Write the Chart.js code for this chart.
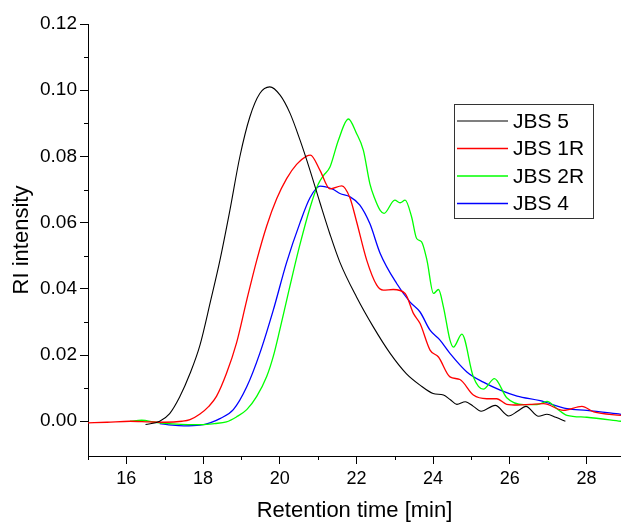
<!DOCTYPE html>
<html>
<head>
<meta charset="utf-8">
<script src="https://cdn.jsdelivr.net/npm/chart.js@4"></script>
<style>
  html, body { margin: 0; padding: 0; background: #fff; }
  #wrap { width: 621px; height: 525px; position: relative; }
</style>
</head>
<body>
<div id="wrap"><canvas id="gpcChart"></canvas></div>
<script>
// retention time [min] / RI intensity
const jbs5Time = [16.5, 16.87, 17.13, 17.39, 17.66, 17.92, 18.2, 18.44, 18.7, 18.96, 19.22, 19.48, 19.74, 20.01, 20.27, 20.53, 20.79, 21.05, 21.31, 21.57, 22.0, 22.44, 22.88, 23.3, 23.66, 24.0, 24.27, 24.45, 24.62, 24.84, 25.05, 25.25, 25.62, 25.97, 26.2, 26.42, 26.75, 26.97, 27.2, 27.45];
const jbs5Value = [-0.001, 0, 0.0023, 0.0073, 0.0144, 0.023, 0.0365, 0.0486, 0.0637, 0.0799, 0.0919, 0.099, 0.101, 0.0985, 0.093, 0.0849, 0.0758, 0.066, 0.0565, 0.048, 0.0376, 0.0285, 0.0205, 0.0144, 0.0109, 0.0084, 0.0079, 0.0065, 0.0051, 0.0059, 0.0045, 0.003, 0.0048, 0.0016, 0.003, 0.0045, 0.0015, 0.0021, 0.0012, 0];

const jbs1rTime = [15, 15.5, 16.1, 16.6, 17.0, 17.45, 17.66, 17.92, 18.15, 18.35, 18.61, 18.87, 19.14, 19.4, 19.66, 19.92, 20.18, 20.44, 20.7, 20.8, 21.05, 21.31, 21.62, 21.83, 22.0, 22.27, 22.53, 22.7, 22.96, 23.27, 23.49, 23.66, 23.92, 24.14, 24.44, 24.7, 25.05, 25.4, 25.66, 25.92, 26.2, 26.53, 26.88, 27.4, 27.88, 28.19, 28.9];
const jbs1rValue = [-0.0005, -0.0003, 0, -0.0002, -0.0003, 0, 0.0005, 0.0022, 0.0045, 0.0075, 0.0144, 0.0235, 0.0366, 0.0486, 0.059, 0.0672, 0.0733, 0.0776, 0.0801, 0.0804, 0.0758, 0.0702, 0.0711, 0.0675, 0.0605, 0.0486, 0.0411, 0.0396, 0.0398, 0.0386, 0.0325, 0.0295, 0.0215, 0.0194, 0.0134, 0.0126, 0.0079, 0.0068, 0.0068, 0.0051, 0.0049, 0.0051, 0.0053, 0.0033, 0.0045, 0.0028, 0.0018];

const jbs2rTime = [16.1, 16.4, 16.75, 17.2, 17.6, 18.0, 18.3, 18.61, 18.87, 19.14, 19.4, 19.66, 19.83, 20.0, 20.18, 20.35, 20.53, 20.79, 21.0, 21.14, 21.31, 21.53, 21.79, 22.0, 22.18, 22.35, 22.47, 22.62, 22.72, 23.0, 23.14, 23.27, 23.44, 23.57, 23.7, 23.84, 24.01, 24.14, 24.27, 24.44, 24.53, 24.75, 25.05, 25.31, 25.6, 25.92, 26.36, 26.71, 26.97, 27.23, 27.49, 28.01, 28.9];
const jbs2rValue = [0, 0.0003, -0.0003, -0.0008, -0.001, -0.001, -0.0007, -0.0002, 0.0013, 0.0035, 0.0075, 0.0135, 0.0195, 0.0275, 0.0365, 0.045, 0.0535, 0.0645, 0.0715, 0.0742, 0.0768, 0.0849, 0.0913, 0.087, 0.0819, 0.0718, 0.0675, 0.0637, 0.0628, 0.0668, 0.066, 0.0668, 0.0617, 0.0552, 0.0542, 0.0486, 0.0386, 0.0398, 0.0345, 0.0245, 0.0224, 0.0263, 0.0134, 0.0097, 0.0129, 0.0071, 0.005, 0.005, 0.006, 0.0038, 0.0018, 0.0012, 0];

const jbs4Time = [16.87, 17.2, 17.5, 17.92, 18.2, 18.44, 18.79, 19.14, 19.48, 19.83, 20.18, 20.53, 20.79, 21.05, 21.2, 21.4, 21.57, 21.83, 22.09, 22.35, 22.62, 23.05, 23.4, 23.66, 23.92, 24.18, 24.44, 24.88, 25.31, 25.75, 26.19, 26.79, 27.49, 28.01, 28.9];
const jbs4Value = [-0.0007, -0.0012, -0.0014, -0.0012, -0.0004, 0.0008, 0.0035, 0.0104, 0.0205, 0.0335, 0.048, 0.06, 0.0675, 0.071, 0.0708, 0.07, 0.0688, 0.0678, 0.0653, 0.0597, 0.0507, 0.0416, 0.036, 0.033, 0.0275, 0.0245, 0.0205, 0.0149, 0.0118, 0.0094, 0.0076, 0.0062, 0.0038, 0.0033, 0.0021];

const seriesLabels = ['JBS 5', 'JBS 1R', 'JBS 2R', 'JBS 4'];
const seriesColors = ['#000000', '#ff0000', '#00ff00', '#0000ff'];

function toPoints(xs, ys) {
    return xs.map((x, i) => ({ x: x, y: ys[i] }));
}

const isMajorX = v => Math.round(v) % 2 === 0;
const isMajorY = v => Math.round(v * 100) % 2 === 0;

// short minor ticks drawn outward
const minorTicks = {
    id: 'minorTicks',
    afterDraw(chart) {
        const ctx = chart.ctx;
        const xs = chart.scales.x, ys = chart.scales.y;
        const area = chart.chartArea;
        ctx.save();
        ctx.strokeStyle = '#000';
        ctx.lineWidth = 1;
        ctx.beginPath();
        xs.ticks.forEach(t => {
            if (isMajorX(t.value)) return;
            const px = Math.round(xs.getPixelForValue(t.value)) + 0.5;
            ctx.moveTo(px, area.bottom);
            ctx.lineTo(px, area.bottom + 4);
        });
        ys.ticks.forEach(t => {
            if (isMajorY(t.value)) return;
            const py = Math.round(ys.getPixelForValue(t.value)) + 0.5;
            ctx.moveTo(area.left, py);
            ctx.lineTo(area.left - 4, py);
        });
        ctx.stroke();
        ctx.restore();
    }
};

// boxed legend inside the plot, top right
const boxLegend = {
    id: 'boxLegend',
    afterDraw(chart) {
        const ctx = chart.ctx;
        const left = 454, top = 104, w = 139, h = 114;
        ctx.save();
        ctx.fillStyle = '#fff';
        ctx.fillRect(left, top, w, h);
        ctx.strokeStyle = '#333';
        ctx.lineWidth = 1;
        ctx.strokeRect(left + 0.5, top + 0.5, w, h);
        ctx.font = "21px 'Liberation Sans', Arial, sans-serif";
        ctx.textBaseline = 'middle';
        ctx.fillStyle = '#000';
        chart.data.datasets.forEach((ds, i) => {
            const y = top + 17 + i * 27.5;
            ctx.strokeStyle = ds.borderColor;
            ctx.lineWidth = ds.borderWidth;
            ctx.beginPath();
            ctx.moveTo(left + 3, y);
            ctx.lineTo(left + 54, y);
            ctx.stroke();
            ctx.fillText(ds.label, left + 59, y + 1);
        });
        ctx.restore();
    }
};

Chart.defaults.font.family = "'Liberation Sans', Arial, sans-serif";
Chart.defaults.color = '#000';

new Chart(document.getElementById('gpcChart').getContext('2d'), {
    type: 'line',
    data: {
        datasets: [
            { label: seriesLabels[0], data: toPoints(jbs5Time, jbs5Value), borderColor: seriesColors[0], borderWidth: 1.1 },
            { label: seriesLabels[1], data: toPoints(jbs1rTime, jbs1rValue), borderColor: seriesColors[1], borderWidth: 1.3 },
            { label: seriesLabels[2], data: toPoints(jbs2rTime, jbs2rValue), borderColor: seriesColors[2], borderWidth: 1.3 },
            { label: seriesLabels[3], data: toPoints(jbs4Time, jbs4Value), borderColor: seriesColors[3], borderWidth: 1.3 }
        ]
    },
    options: {
        responsive: true,
        maintainAspectRatio: false,
        animation: false,
        layout: { padding: { top: 24, right: 0, left: 0, bottom: 0 } },
        elements: { point: { radius: 0 }, line: { cubicInterpolationMode: 'monotone', fill: false } },
        plugins: { legend: { display: false }, tooltip: { enabled: false } },
        scales: {
            x: {
                type: 'linear',
                min: 15,
                max: 28.9,
                afterBuildTicks: axis => {
                    const t = [];
                    for (let v = 15; v <= 28; v++) t.push({ value: v });
                    axis.ticks = t;
                },
                afterFit: axis => { axis.height = 69; },
                border: { color: '#000', width: 1 },
                grid: {
                    drawOnChartArea: false,
                    tickLength: 8,
                    tickColor: c => isMajorX(c.tick.value) ? '#000' : 'rgba(0,0,0,0)'
                },
                ticks: {
                    font: { size: 18 },
                    padding: 4,
                    maxRotation: 0,
                    autoSkip: false,
                    callback: v => isMajorX(v) ? String(v) : ''
                },
                title: {
                    display: true,
                    text: 'Retention time [min]',
                    font: { size: 22 },
                    padding: { top: 0, bottom: 1 }
                }
            },
            y: {
                type: 'linear',
                min: -0.0105,
                max: 0.12,
                afterBuildTicks: axis => {
                    const t = [];
                    for (let k = 0; k <= 12; k++) t.push({ value: k / 100 });
                    axis.ticks = t;
                },
                afterFit: axis => { axis.width = 88; },
                border: { color: '#000', width: 1 },
                grid: {
                    drawOnChartArea: false,
                    tickLength: 8,
                    tickColor: c => isMajorY(c.tick.value) ? '#000' : 'rgba(0,0,0,0)'
                },
                ticks: {
                    font: { size: 19 },
                    padding: 3,
                    autoSkip: false,
                    callback: v => isMajorY(v) ? v.toFixed(2) : ''
                },
                title: {
                    display: true,
                    text: 'RI intensity',
                    font: { size: 22 },
                    padding: { top: 9, bottom: 0 }
                }
            }
        }
    },
    plugins: [minorTicks, boxLegend]
});
</script>
</body>
</html>
